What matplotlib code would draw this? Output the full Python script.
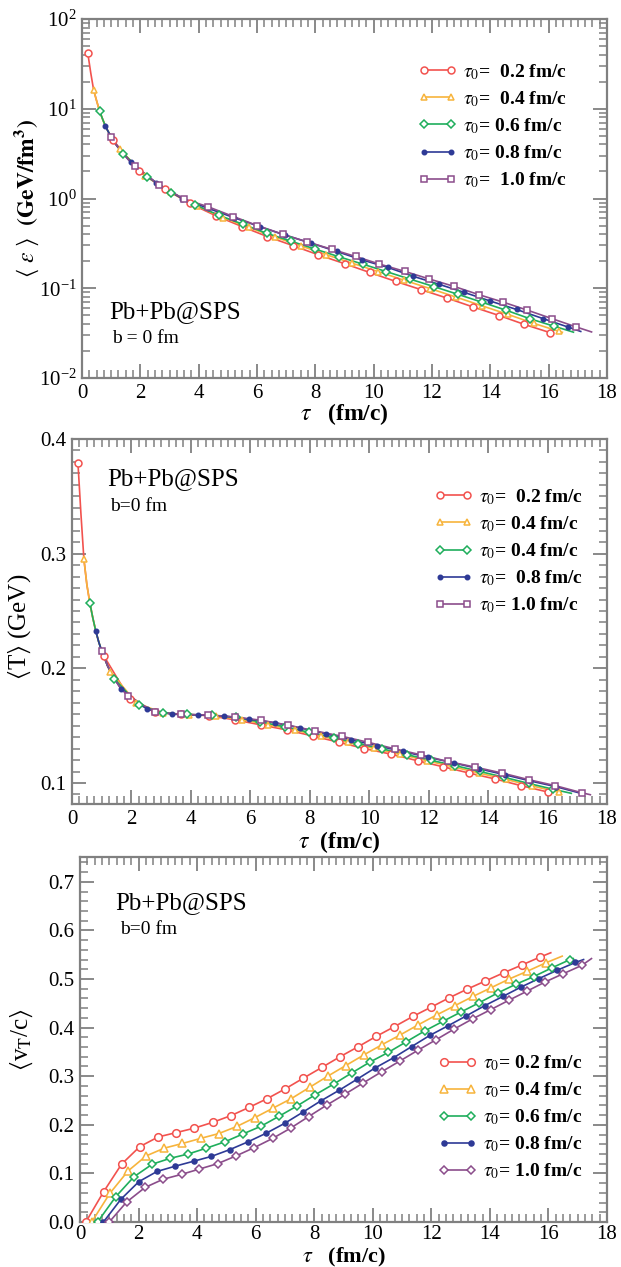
import matplotlib
matplotlib.use("Agg")
import matplotlib.pyplot as plt
from matplotlib.lines import Line2D
from matplotlib.ticker import MultipleLocator, LogLocator, NullFormatter, FormatStrFormatter

plt.rcParams['font.family'] = ['Liberation Serif', 'DejaVu Serif']
plt.rcParams['mathtext.fontset'] = 'stix'

# ---------------- data: panel 1 (energy density, GeV/fm^3) ----------------
eps_env_tau = [0.2, 0.3, 0.4, 0.5, 0.6, 0.7, 0.8, 0.9, 1.0, 1.2, 1.4, 1.6, 1.8, 2.0, 2.2, 2.5, 2.8]
eps_env_val = [41.3, 25.1, 16.1, 12.3, 9.5, 7.76, 6.43, 5.56, 4.82, 3.85, 3.2, 2.69, 2.29, 2.0, 1.78, 1.51, 1.30]

eps_tau_02 = [0.2, 1.06, 1.95, 2.85, 3.7, 4.6, 5.5, 6.35, 7.25, 8.1, 9.0, 9.86, 10.76, 11.62, 12.5, 13.4, 14.3, 15.16, 16.05]
eps_val_02 = [41.3, 4.5, 2.0, 1.27, 0.88, 0.64, 0.485, 0.377, 0.297, 0.236, 0.188, 0.150, 0.119, 0.0966, 0.078, 0.062, 0.0497, 0.0396, 0.032]
eps_end_02 = (16.15, 0.0313)

eps_tau_04 = [0.4, 1.29, 2.17, 3.06, 3.95, 4.84, 5.72, 6.61, 7.5, 8.38, 9.27, 10.16, 11.04, 11.93, 12.82, 13.71, 14.59, 15.48, 16.37]
eps_val_04 = [16.1, 3.55, 1.80, 1.175, 0.822, 0.612, 0.476, 0.372, 0.297, 0.236, 0.190, 0.153, 0.123, 0.0993, 0.0798, 0.0638, 0.0513, 0.0407, 0.033]
eps_end_04 = (16.47, 0.0323)

eps_tau_06 = [0.6, 1.42, 2.24, 3.06, 3.88, 4.7, 5.52, 6.34, 7.16, 7.98, 8.8, 9.62, 10.44, 11.26, 12.08, 12.9, 13.72, 14.54, 15.36, 16.18]
eps_val_06 = [9.5, 3.16, 1.74, 1.164, 0.851, 0.649, 0.516, 0.409, 0.335, 0.274, 0.225, 0.186, 0.153, 0.126, 0.104, 0.0853, 0.0698, 0.0569, 0.0457, 0.0378]
eps_end_06 = (16.85, 0.0324)

eps_tau_08 = [0.8, 1.68, 2.55, 3.44, 4.33, 5.22, 6.1, 6.97, 7.86, 8.73, 9.6, 10.48, 11.35, 12.23, 13.1, 14.0, 14.9, 15.8, 16.66]
eps_val_08 = [6.4, 2.52, 1.49, 1.0, 0.776, 0.61, 0.485, 0.39, 0.318, 0.257, 0.207, 0.171, 0.136, 0.111, 0.090, 0.072, 0.058, 0.046, 0.037]
eps_end_08 = (17.1, 0.033)

eps_tau_10 = [1.0, 1.82, 2.64, 3.49, 4.32, 5.19, 6.01, 6.88, 7.7, 8.56, 9.38, 10.2, 11.07, 11.9, 12.75, 13.6, 14.44, 15.27, 16.1, 16.95]
eps_val_10 = [4.8, 2.28, 1.42, 0.99, 0.81, 0.63, 0.50, 0.40, 0.33, 0.272, 0.226, 0.186, 0.154, 0.127, 0.105, 0.085, 0.070, 0.057, 0.046, 0.037]
eps_end_10 = (17.47, 0.0326)

# ---------------- data: panel 2 (temperature, GeV) ----------------
T_env_tau = [0.2, 0.3, 0.4, 0.5, 0.6, 0.7, 0.8, 0.9, 1.0, 1.2, 1.4, 1.6, 1.8, 2.0, 2.2, 2.5, 2.8]
T_env_val = [0.379, 0.335, 0.2953, 0.273, 0.257, 0.244, 0.2325, 0.223, 0.215, 0.202, 0.192, 0.184, 0.178, 0.173, 0.169, 0.164, 0.1615]

T_tau_02 = [0.2, 1.08, 1.94, 2.79, 3.67, 4.6, 5.5, 6.37, 7.22, 8.1, 8.97, 9.84, 10.73, 11.63, 12.48, 13.36, 14.24, 15.11, 16.0]
T_val_02 = [0.379, 0.2105, 0.1735, 0.1616, 0.160, 0.1588, 0.155, 0.1506, 0.1463, 0.141, 0.1356, 0.130, 0.1252, 0.1194, 0.1142, 0.1087, 0.1035, 0.0977, 0.0922]
T_end_02 = (16.1, 0.0916)

T_tau_04 = [0.4, 1.29, 2.17, 3.06, 3.95, 4.84, 5.72, 6.61, 7.5, 8.38, 9.27, 10.16, 11.04, 11.93, 12.82, 13.71, 14.59, 15.48, 16.37]
T_val_04 = [0.2953, 0.197, 0.170, 0.161, 0.1597, 0.1585, 0.1552, 0.1508, 0.1461, 0.1409, 0.1354, 0.1301, 0.1251, 0.1195, 0.1141, 0.1086, 0.1032, 0.0975, 0.092]
T_end_04 = (16.45, 0.0915)

T_tau_06 = [0.6, 1.42, 2.24, 3.06, 3.88, 4.7, 5.52, 6.34, 7.16, 7.98, 8.8, 9.62, 10.44, 11.26, 12.08, 12.9, 13.72, 14.54, 15.36, 16.18]
T_val_06 = [0.257, 0.191, 0.168, 0.161, 0.1598, 0.159, 0.1572, 0.1532, 0.1491, 0.1442, 0.1396, 0.1344, 0.1298, 0.1248, 0.1198, 0.1151, 0.1101, 0.105, 0.0997, 0.0946]
T_end_06 = (16.8, 0.091)

T_tau_08 = [0.8, 1.66, 2.52, 3.38, 4.24, 5.1, 5.96, 6.82, 7.68, 8.54, 9.4, 10.26, 11.12, 11.98, 12.84, 13.7, 14.56, 15.42, 16.28]
T_val_08 = [0.2325, 0.182, 0.1645, 0.160, 0.1593, 0.1585, 0.1556, 0.1526, 0.148, 0.1429, 0.1375, 0.1326, 0.1275, 0.1225, 0.1175, 0.1124, 0.1072, 0.1018, 0.0968]
T_end_08 = (17.05, 0.0915)

T_tau_10 = [1.0, 1.89, 2.79, 3.68, 4.59, 5.49, 6.37, 7.28, 8.17, 9.07, 9.95, 10.86, 11.74, 12.64, 13.56, 14.47, 15.37, 16.26, 17.17]
T_val_10 = [0.2154, 0.1761, 0.1616, 0.160, 0.1593, 0.1576, 0.1547, 0.1504, 0.1455, 0.1408, 0.1356, 0.1298, 0.1246, 0.1188, 0.1139, 0.1087, 0.1029, 0.0977, 0.0914]
T_end_10 = (17.44, 0.0898)

# ---------------- data: panel 3 (transverse velocity) ----------------
v_tau_02 = [0.2, 0.81, 1.42, 2.04, 2.67, 3.29, 3.9, 4.53, 5.16, 5.78, 6.4, 7.01, 7.63, 8.26, 8.88, 9.51, 10.12, 10.74, 11.37, 11.99, 12.6, 13.22, 13.85, 14.48, 15.1, 15.71]
v_val_02 = [0, 0.0626, 0.119, 0.155, 0.175, 0.184, 0.193, 0.205, 0.219, 0.236, 0.254, 0.274, 0.296, 0.318, 0.340, 0.361, 0.382, 0.402, 0.423, 0.442, 0.461, 0.479, 0.496, 0.513, 0.529, 0.545]
v_end_02 = (16.08, 0.554)

v_tau_04 = [0.4, 1.02, 1.64, 2.26, 2.88, 3.5, 4.12, 4.74, 5.36, 5.98, 6.6, 7.22, 7.84, 8.46, 9.08, 9.7, 10.32, 10.94, 11.56, 12.18, 12.8, 13.42, 14.04, 14.66, 15.28, 15.9]
v_val_04 = [0, 0.059, 0.105, 0.136, 0.152, 0.1616, 0.172, 0.182, 0.1967, 0.215, 0.2345, 0.254, 0.277, 0.300, 0.322, 0.344, 0.365, 0.385, 0.406, 0.426, 0.445, 0.464, 0.482, 0.500, 0.516, 0.533]
v_end_04 = (16.47, 0.547)

v_tau_06 = [0.6, 1.22, 1.84, 2.47, 3.08, 3.7, 4.32, 4.95, 5.56, 6.18, 6.81, 7.42, 8.04, 8.67, 9.29, 9.9, 10.53, 11.15, 11.77, 12.4, 13.01, 13.63, 14.26, 14.88, 15.5, 16.12, 16.74]
v_val_06 = [0, 0.052, 0.093, 0.119, 0.131, 0.140, 0.152, 0.165, 0.181, 0.197, 0.218, 0.239, 0.262, 0.284, 0.307, 0.329, 0.349, 0.371, 0.393, 0.413, 0.432, 0.451, 0.471, 0.489, 0.505, 0.523, 0.540]
v_end_06 = (16.85, 0.542)

v_tau_08 = [0.8, 1.4, 2.01, 2.63, 3.26, 3.88, 4.49, 5.12, 5.74, 6.37, 6.99, 7.6, 8.22, 8.85, 9.47, 10.08, 10.71, 11.33, 11.95, 12.58, 13.19, 13.82, 14.44, 15.05, 15.68, 16.3, 16.92]
v_val_08 = [0, 0.047, 0.083, 0.104, 0.115, 0.125, 0.135, 0.149, 0.165, 0.183, 0.203, 0.2255, 0.249, 0.271, 0.294, 0.317, 0.338, 0.361, 0.384, 0.404, 0.424, 0.445, 0.464, 0.483, 0.501, 0.518, 0.534]
v_end_08 = (17.2, 0.540)

v_tau_10 = [1.0, 1.59, 2.22, 2.84, 3.47, 4.08, 4.7, 5.33, 5.95, 6.58, 7.19, 7.81, 8.44, 9.05, 9.67, 10.3, 10.92, 11.53, 12.16, 12.78, 13.41, 14.03, 14.64, 15.27, 15.89, 16.51, 17.14]
v_val_10 = [0, 0.041, 0.071, 0.088, 0.098, 0.109, 0.120, 0.136, 0.153, 0.172, 0.193, 0.217, 0.241, 0.263, 0.286, 0.309, 0.331, 0.353, 0.375, 0.397, 0.418, 0.437, 0.456, 0.475, 0.494, 0.511, 0.528]
v_end_10 = (17.47, 0.542)

labels_1 = ['  0.2 fm/c', '  0.4 fm/c', ' 0.6 fm/c', ' 0.8 fm/c', '  1.0 fm/c']
labels_2 = ['  0.2 fm/c', ' 0.4 fm/c', ' 0.4 fm/c', '  0.8 fm/c', ' 1.0 fm/c']
labels_3 = [' 0.2 fm/c', ' 0.4 fm/c', ' 0.6 fm/c', ' 0.8 fm/c', ' 1.0 fm/c']

# ---------------- styles ----------------
colors = ['#f2524e', '#f7b43c', '#1fae5c', '#2e3a96', '#8b4d8b']
markers12 = ['o', '^', 'D', 'o', 's']
markers3 = ['o', '^', 'D', 'o', 'D']
mfcs = ['white', 'white', 'white', None, 'white']
msizes12 = [5, 5, 3.6, 3.2, 4.6]
msizes3 = [5.5, 5.5, 4.2, 3.6, 4.2]
grey = '#808080'

W, H = 621, 1267
fig = plt.figure(figsize=(W / 100, H / 100), dpi=100)


def frac(l, t, r, b):
    return [l / W, 1 - b / H, (r - l) / W, (b - t) / H]


ax1 = fig.add_axes(frac(82, 19, 607, 378))
ax2 = fig.add_axes(frac(72, 439, 607, 804))
ax3 = fig.add_axes(frac(80, 857, 607, 1222))


def style_axes(ax):
    for s in ax.spines.values():
        s.set_color(grey)
        s.set_linewidth(1.6)
    ax.tick_params(which='both', direction='in', top=True, right=True, color=grey,
                   labelsize=15, pad=4)
    ax.tick_params(which='major', length=10, width=1.3)
    ax.tick_params(which='minor', length=6, width=1.1)
    ax.set_xlim(0, 18)
    ax.xaxis.set_major_locator(MultipleLocator(2))
    ax.xaxis.set_minor_locator(MultipleLocator(0.25))


def draw_series(ax, tau, val, end, env_tau, env_val, color, marker, mfc, ms):
    if env_tau is not None:
        extra = [(t, v) for t, v in zip(env_tau, env_val) if tau[0] < t < tau[1]]
    else:
        extra = []
    pts = [(tau[0], val[0])] + extra + list(zip(tau[1:], val[1:])) + [end]
    ax.plot([p[0] for p in pts], [p[1] for p in pts], color=color, lw=1.2, zorder=2)
    ax.plot(tau, val, linestyle='none', marker=marker, color=color, ms=ms,
            mfc=(mfc if mfc else color), mec=color, mew=1.1, zorder=3)


def legend(ax, labels, markers, sizes, x, y):
    handles = []
    for c, m, f, s in zip(colors, markers, mfcs, sizes):
        handles.append(Line2D([], [], color=c, lw=1.2, marker=m, ms=s,
                              mfc=(f if f else c), mec=c, mew=1.1))
    labs = [r'$\tau_0$=' + l for l in labels]
    ax.legend(handles, labs, loc='upper left', bbox_to_anchor=(x, y), frameon=False,
              numpoints=2, handlelength=2.0, handletextpad=0.3, labelspacing=0.38,
              borderpad=0, borderaxespad=0,
              prop={'family': 'Liberation Serif', 'weight': 'bold', 'size': 14})


# ---- panel 1 ----
style_axes(ax1)
ax1.set_yscale('log')
ax1.set_ylim(1e-2, 1e2)
ax1.yaxis.set_major_locator(LogLocator(base=10, numticks=10))
ax1.yaxis.set_minor_locator(LogLocator(base=10, subs=range(2, 10), numticks=20))
ax1.yaxis.set_minor_formatter(NullFormatter())
series1 = [(eps_tau_02, eps_val_02, eps_end_02), (eps_tau_04, eps_val_04, eps_end_04),
           (eps_tau_06, eps_val_06, eps_end_06), (eps_tau_08, eps_val_08, eps_end_08),
           (eps_tau_10, eps_val_10, eps_end_10)]
for i, (t, v, e) in enumerate(series1):
    draw_series(ax1, t, v, e, eps_env_tau, eps_env_val, colors[i], markers12[i], mfcs[i], msizes12[i])
legend(ax1, labels_1, markers12, msizes12, 0.64, 0.88)
ax1.text(0.051, 0.184, 'Pb+Pb@SPS', transform=ax1.transAxes, fontsize=18, va='center')
ax1.text(0.057, 0.111, 'b = 0 fm', transform=ax1.transAxes, fontsize=14, va='center')
ax1.set_xlabel(r'$\tau$   (fm/c)', fontsize=17, fontweight='bold')
ax1.xaxis.set_label_coords(0.5, -0.065)
ax1.set_ylabel(r'$\langle\ \varepsilon\ \rangle$  $\mathbf{(GeV/fm^3)}$', fontsize=17)
ax1.yaxis.set_label_coords(-0.078, 0.5)

# ---- panel 2 ----
style_axes(ax2)
ax2.set_ylim(0.0817, 0.4)
ax2.yaxis.set_major_locator(MultipleLocator(0.1))
ax2.yaxis.set_minor_locator(MultipleLocator(0.01))
ax2.yaxis.set_major_formatter(FormatStrFormatter('%.1f'))
series2 = [(T_tau_02, T_val_02, T_end_02), (T_tau_04, T_val_04, T_end_04),
           (T_tau_06, T_val_06, T_end_06), (T_tau_08, T_val_08, T_end_08),
           (T_tau_10, T_val_10, T_end_10)]
for i, (t, v, e) in enumerate(series2):
    draw_series(ax2, t, v, e, T_env_tau, T_env_val, colors[i], markers12[i], mfcs[i], msizes12[i])
legend(ax2, labels_2, markers12, msizes12, 0.677, 0.868)
ax2.text(0.065, 0.89, 'Pb+Pb@SPS', transform=ax2.transAxes, fontsize=18, va='center')
ax2.text(0.071, 0.816, 'b=0 fm', transform=ax2.transAxes, fontsize=14, va='center')
ax2.set_xlabel(r'$\tau$  (fm/c)', fontsize=17, fontweight='bold')
ax2.xaxis.set_label_coords(0.5, -0.07)
ax2.set_ylabel(r'$\langle$T$\rangle$ (GeV)', fontsize=18)
ax2.yaxis.set_label_coords(-0.072, 0.485)

# ---- panel 3 ----
style_axes(ax3)
ax3.tick_params(axis='x', which='both', pad=2)
ax3.set_ylim(0, 0.751)
ax3.yaxis.set_major_locator(MultipleLocator(0.1))
ax3.yaxis.set_minor_locator(MultipleLocator(0.02))
ax3.yaxis.set_major_formatter(FormatStrFormatter('%.1f'))
series3 = [(v_tau_02, v_val_02, v_end_02), (v_tau_04, v_val_04, v_end_04),
           (v_tau_06, v_val_06, v_end_06), (v_tau_08, v_val_08, v_end_08),
           (v_tau_10, v_val_10, v_end_10)]
for i, (t, v, e) in enumerate(series3):
    draw_series(ax3, t, v, e, None, None, colors[i], markers3[i], mfcs[i], msizes3[i])
legend(ax3, labels_3, markers3, msizes3, 0.679, 0.462)
ax3.text(0.066, 0.874, 'Pb+Pb@SPS', transform=ax3.transAxes, fontsize=18, va='center')
ax3.text(0.076, 0.80, 'b=0 fm', transform=ax3.transAxes, fontsize=14, va='center')
ax3.set_xlabel(r'$\tau$   (fm/c)', fontsize=16, fontweight='bold')
ax3.xaxis.set_label_coords(0.5, -0.066)
ax3.set_ylabel(r'$\langle$v$_{\rm T}$/c$\rangle$', fontsize=18)
ax3.yaxis.set_label_coords(-0.085, 0.5)

fig.savefig('out.png', dpi=100)
